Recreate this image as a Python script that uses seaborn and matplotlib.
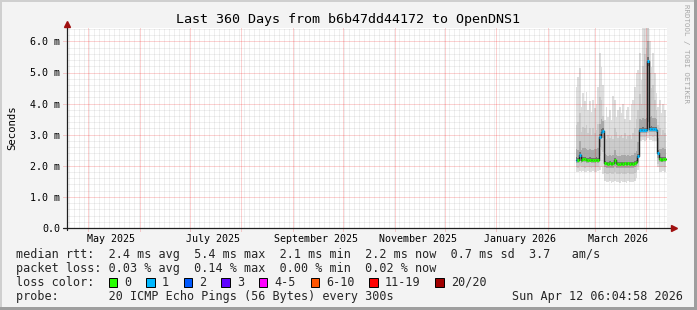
import numpy as np
import pandas as pd
import matplotlib
matplotlib.use("Agg")
import matplotlib.pyplot as plt
import matplotlib.dates as mdates
from matplotlib.patches import Rectangle
import seaborn as sns

# ---------------- data ----------------
TITLE = "Last 360 Days from b6b47dd44172 to OpenDNS1"
AXIS_START = pd.Timestamp("2025-04-18 12:00")
SPAN_DAYS = 360
DATA_START = pd.Timestamp("2026-02-17 16:00")

# daily median rtt (ms)
median = [2.20, 2.18, 2.35, 2.19, 2.21, 2.22, 2.19, 2.18, 2.20, 2.19, 2.18, 2.19, 2.20, 2.19,
          2.94, 3.10, 3.12,
          2.10, 2.08, 2.07, 2.08, 2.07, 2.08, 2.18, 2.08, 2.07, 2.07, 2.08, 2.07, 2.08, 2.07,
          2.08, 2.07, 2.08, 2.07, 2.09, 2.12,
          2.30,
          3.15, 3.15, 3.16, 3.15, 3.15, 5.36, 3.17, 3.18, 3.17, 3.17, 3.16,
          2.42,
          2.21, 2.20, 2.22, 2.21]
# lost pings per day (of 20)
loss = [1, 0, 1, 0, 0, 0, 0, 0, 0, 0, 0, 0, 0, 0,
        1, 1, 1,
        0, 0, 0, 0, 0, 0, 0, 0, 0, 0, 0, 0, 0, 0, 0, 0, 0, 0, 0, 0,
        1,
        1, 1, 1, 1, 1, 1, 1, 1, 1, 1, 1,
        1,
        0, 0, 0, 0]
# smoke: ping distribution per day (ms)
ping_lo = [1.81, 1.80, 1.83, 1.81, 1.82, 1.80, 1.81, 1.82, 1.80, 1.81, 1.82, 1.81, 1.80, 1.82,
           1.85, 1.95, 1.75,
           1.50, 1.48, 1.47, 1.50, 1.46, 1.49, 1.52, 1.48, 1.47, 1.46, 1.50, 1.48, 1.49, 1.46,
           1.50, 1.48, 1.49, 1.47, 1.52, 1.60,
           1.88,
           2.80, 2.81, 2.83, 2.80, 2.82, 2.90, 2.82, 2.84, 2.81, 2.80, 2.80,
           1.95,
           1.81, 1.80, 1.82, 1.81]
ping_p10 = [1.95, 1.93, 1.98, 1.95, 1.96, 1.94, 1.95, 1.97, 1.95, 1.94, 1.96, 1.95, 1.95, 1.96,
            2.30, 2.50, 2.45,
            1.78, 1.75, 1.74, 1.76, 1.73, 1.75, 1.80, 1.74, 1.75, 1.73, 1.76, 1.74, 1.75, 1.73,
            1.76, 1.74, 1.75, 1.73, 1.77, 1.80,
            1.98,
            2.92, 2.93, 2.94, 2.93, 2.95, 3.05, 2.95, 2.96, 2.94, 2.95, 2.93,
            2.05,
            1.96, 1.95, 1.97, 1.96]
ping_p25 = [2.10, 2.08, 2.15, 2.10, 2.11, 2.12, 2.10, 2.09, 2.11, 2.10, 2.09, 2.10, 2.11, 2.10,
            2.60, 2.85, 2.90,
            1.95, 1.93, 1.92, 1.94, 1.92, 1.93, 2.00, 1.93, 1.92, 1.92, 1.93, 1.92, 1.93, 1.92,
            1.93, 1.92, 1.93, 1.92, 1.95, 1.98,
            2.12,
            3.05, 3.06, 3.07, 3.06, 3.06, 3.40, 3.08, 3.09, 3.08, 3.08, 3.07,
            2.25,
            2.12, 2.11, 2.13, 2.12]
ping_p40 = [2.17, 2.15, 2.31, 2.16, 2.18, 2.19, 2.16, 2.15, 2.17, 2.16, 2.15, 2.16, 2.17, 2.16,
            2.88, 3.06, 3.08,
            2.06, 2.04, 2.03, 2.05, 2.03, 2.04, 2.14, 2.04, 2.03, 2.03, 2.04, 2.03, 2.04, 2.03,
            2.04, 2.03, 2.04, 2.03, 2.05, 2.08,
            2.26,
            3.12, 3.12, 3.13, 3.12, 3.12, 5.20, 3.14, 3.15, 3.14, 3.14, 3.13,
            2.38,
            2.18, 2.17, 2.19, 2.18]
ping_p60 = [2.27, 2.25, 2.43, 2.26, 2.28, 2.29, 2.26, 2.25, 2.27, 2.26, 2.25, 2.26, 2.27, 2.26,
            3.03, 3.18, 3.20,
            2.15, 2.13, 2.12, 2.14, 2.12, 2.13, 2.24, 2.13, 2.12, 2.12, 2.13, 2.12, 2.13, 2.12,
            2.13, 2.12, 2.13, 2.12, 2.15, 2.18,
            2.38,
            3.23, 3.23, 3.25, 3.23, 3.23, 5.50, 3.25, 3.27, 3.25, 3.25, 3.24,
            2.50,
            2.28, 2.27, 2.29, 2.28]
ping_p75 = [2.55, 2.52, 2.80, 2.50, 2.56, 2.58, 2.53, 2.51, 2.55, 2.52, 2.51, 2.53, 2.54, 2.56,
            3.35, 3.50, 3.45,
            2.38, 2.34, 2.32, 2.36, 2.33, 2.35, 2.50, 2.36, 2.33, 2.32, 2.36, 2.34, 2.36, 2.32,
            2.35, 2.33, 2.36, 2.34, 2.40, 2.46,
            2.75,
            3.50, 3.47, 3.55, 3.50, 3.53, 6.00, 3.57, 3.60, 3.55, 3.53, 3.50,
            2.90,
            2.55, 2.53, 2.57, 2.55]
ping_p90 = [3.30, 3.40, 3.70, 3.10, 3.25, 3.20, 3.30, 3.05, 3.20, 3.00, 3.20, 3.05, 3.15, 3.35,
            4.20, 4.10, 3.60,
            2.95, 2.85, 3.00, 2.90, 2.95, 2.85, 3.20, 3.10, 2.90, 2.95, 3.00, 2.90, 3.05, 2.85,
            2.95, 3.00, 2.85, 3.05, 3.20, 3.50,
            3.80,
            4.30, 4.00, 5.20, 5.60, 5.80, 6.45, 5.00, 4.50, 4.60, 4.10, 3.80,
            3.30,
            3.20, 3.00, 3.15, 3.05]
ping_hi = [4.54, 4.87, 5.13, 3.90, 4.33, 4.07, 4.38, 3.80, 4.07, 3.74,
           4.12, 3.85, 4.00, 4.54, 5.62, 5.18, 4.60, 3.47, 3.90, 3.58,
           3.80, 3.47, 4.23, 4.12, 3.58, 3.80, 3.90, 3.69, 4.00, 3.52,
           3.80, 3.90, 3.47, 4.00, 4.12, 4.54, 4.97, 5.07, 5.62, 4.76,
           6.45, 6.45, 6.45, 6.45, 6.00, 5.18, 5.62, 4.97, 4.33, 3.90,
           4.12, 3.69, 4.00, 3.80]

y_ticks = [0, 1, 2, 3, 4, 5, 6]
label_months = ["2025-05-01", "2025-07-01", "2025-09-01", "2025-11-01", "2026-01-01", "2026-03-01"]

loss_keys = [0, 1, 2, 3, 5, 10, 19, 20]
loss_labels = ["0", "1", "2", "3", "4-5", "6-10", "11-19", "20/20"]
loss_colors = ["#26ff00", "#00b8ff", "#0059ff", "#5e00ff", "#ff00ff", "#ff5500", "#ff0000", "#a00000"]

rtt_stats = ["2.4", "5.4", "2.1", "2.2", "0.7", "3.7"]
loss_stats = ["0.03", "0.14", "0.00", "0.02"]
probe_text = "20 ICMP Echo Pings (56 Bytes) every 300s"
stamp = "Sun Apr 12 06:04:58 2026"

# ---------------- style ----------------
sns.set_theme(style="white")
MONO = "DejaVu Sans Mono"
plt.rcParams["font.family"] = [MONO, "DejaVu Sans"]

W, H = 697, 310
BG = "#f3f3f3"
fig = plt.figure(figsize=(W / 100, H / 100), dpi=100, facecolor=BG)
PL, PR, PT, PB = 67, 667, 28, 228
ax = fig.add_axes([PL / W, 1 - PB / H, (PR - PL) / W, (PB - PT) / H])
ax.set_facecolor("white")

x0 = mdates.date2num(AXIS_START.to_pydatetime())
x1 = mdates.date2num((AXIS_START + pd.Timedelta(days=SPAN_DAYS)).to_pydatetime())
ax.set_xlim(x0, x1)
YTOP = 200 / 31.1
ax.set_ylim(0, YTOP)

# ---------------- smoke ----------------
xs = pd.date_range(DATA_START, periods=len(median) + 1, freq="D")
xn = mdates.date2num(xs.to_pydatetime())

def ext(a):
    return np.append(np.asarray(a, float), a[-1])

bands = [(ping_lo, ping_hi, "#dedede"),
         (ping_p10, ping_p90, "#cbcbcb"),
         (ping_p25, ping_p75, "#a9a9a9"),
         (ping_p40, ping_p60, "#717171")]
for lo, hi, c in bands:
    ax.fill_between(xn, ext(lo), ext(hi), step="post", color=c, lw=0, zorder=2)

# ---------------- grid (on top, like rrdtool) ----------------
minor_c = (0.56, 0.56, 0.56, 0.28)
major_c = (0.94, 0.0, 0.0, 0.36)
dot = (0, (1, 1))
for v in np.arange(0.2, YTOP, 0.2):
    if abs(v - round(v)) > 1e-6:
        ax.axhline(v, color=minor_c, lw=0.72, ls=dot, zorder=3)
minor_days = pd.date_range(AXIS_START + pd.Timedelta(days=1), AXIS_START + pd.Timedelta(days=SPAN_DAYS), freq="3D")
for d in minor_days:
    ax.axvline(mdates.date2num(d.to_pydatetime()), color=minor_c, lw=0.72, ls=dot, zorder=3)
for v in y_ticks[1:]:
    ax.plot([-0.006, 1], [v, v], transform=ax.get_yaxis_transform(), color=major_c,
            lw=0.72, ls=dot, zorder=3, clip_on=False)
month_starts = pd.date_range("2025-05-01", "2026-04-01", freq="MS")
for d in month_starts:
    ax.plot([mdates.date2num(d.to_pydatetime())] * 2, [-0.015, 1], transform=ax.get_xaxis_transform(),
            color=major_c, lw=0.72, ls=dot, zorder=3, clip_on=False)

# ---------------- median line ----------------
sns.lineplot(x=xn, y=ext(median), drawstyle="steps-post", color="#202020", lw=1.0,
             estimator=None, ax=ax, zorder=5, legend=False)
key_arr = np.array(loss_keys)
for i, (m, l) in enumerate(zip(median, loss)):
    ci = int(np.searchsorted(key_arr, l))
    ax.hlines(m, xn[i], xn[i + 1], colors=loss_colors[ci], lw=2.2, zorder=6, capstyle="butt")

# ---------------- axes ----------------
for s in ax.spines.values():
    s.set_visible(False)
AX_C = "#1f1f1f"
ARROW_C = "#a01010"
ax.plot([-0.006, 1.008], [0, 0], transform=ax.transAxes, color=AX_C, lw=0.9, clip_on=False, zorder=7)
ax.plot([0, 0], [-0.012, 1.02], transform=ax.transAxes, color=AX_C, lw=0.9, clip_on=False, zorder=7)
ax.plot([1.012], [0], transform=ax.transAxes, marker=">", ms=4.5, color=ARROW_C, mec=ARROW_C,
        clip_on=False, zorder=8)
ax.plot([0], [1.02], transform=ax.transAxes, marker="^", ms=4.5, color=ARROW_C, mec=ARROW_C,
        clip_on=False, zorder=8)

ax.set_yticks(y_ticks)
ax.set_yticklabels(["0.0" if v == 0 else f"{v:.1f} m" for v in y_ticks])
lab_pos = [mdates.date2num((pd.Timestamp(d) + pd.Timedelta(days=14)).to_pydatetime()) for d in label_months]
ax.set_xticks(lab_pos)
ax.set_xticklabels([pd.Timestamp(d).strftime("%B %Y") for d in label_months])
ax.tick_params(axis="both", length=0, labelsize=7.2, labelcolor="#000000")
ax.tick_params(axis="y", pad=5)
ax.tick_params(axis="x", pad=4)
for t in ax.get_xticklabels() + ax.get_yticklabels():
    t.set_family(MONO)
ax.set_xlabel("")
ax.set_ylabel("")

# ---------------- texts ----------------
def ftext(x, y, s, **kw):
    kw.setdefault("family", MONO)
    return fig.text(x / W, 1 - y / H, s, **kw)

ftext(W / 2, 19, TITLE, ha="center", va="center", size=9.6, color="#000000")
ftext(12, 128, "Seconds", ha="center", va="center", rotation=90, size=7.7, color="#000000")
ftext(686, 4, "RRDTOOL / TOBI OETIKER", ha="center", va="top", rotation=270, size=5.4, color="#a8a8a8")

LS = 8.5
row1 = ("median rtt:  " + f"{rtt_stats[0]} ms avg  {rtt_stats[1]} ms max  {rtt_stats[2]} ms min  "
        f"{rtt_stats[3]} ms now  {rtt_stats[4]} ms sd  {rtt_stats[5]}   am/s")
row2 = ("packet loss: " + f"{loss_stats[0]} % avg  {loss_stats[1]} % max  {loss_stats[2]} % min  "
        f"{loss_stats[3]} % now")
ftext(16, 254.3, row1, ha="left", va="center", size=LS)
ftext(16, 268.3, row2, ha="left", va="center", size=LS)
ftext(16, 282.3, "loss color:", ha="left", va="center", size=LS)
ftext(16, 296.3, "probe:       " + probe_text, ha="left", va="center", size=LS)
ftext(683, 296.3, stamp, ha="right", va="center", size=LS)

CW = 7.08
bx = 108.5
for lab, col in zip(loss_labels, loss_colors):
    fig.add_artist(Rectangle((bx / W, 1 - 286.5 / H), 8.5 / W, 8.5 / H, transform=fig.transFigure,
                             facecolor=col, edgecolor="#000000", lw=0.7))
    tx = bx + 15.5
    ftext(tx, 282.3, lab, ha="left", va="center", size=LS)
    bx = tx + len(lab) * CW + 15

# ---------------- frame shading ----------------
fig.add_artist(Rectangle((0, 0), 2 / W, 1, transform=fig.transFigure, color="#cfcfcf", lw=0))
fig.add_artist(Rectangle((0, 1 - 2 / H), 1, 2 / H, transform=fig.transFigure, color="#cfcfcf", lw=0))
fig.add_artist(Rectangle((1 - 3 / W, 0), 3 / W, 1, transform=fig.transFigure, color="#9e9e9e", lw=0))
fig.add_artist(Rectangle((0, 0), 1, 3 / H, transform=fig.transFigure, color="#9e9e9e", lw=0))

fig.savefig("out.png", dpi=100, facecolor=BG)
